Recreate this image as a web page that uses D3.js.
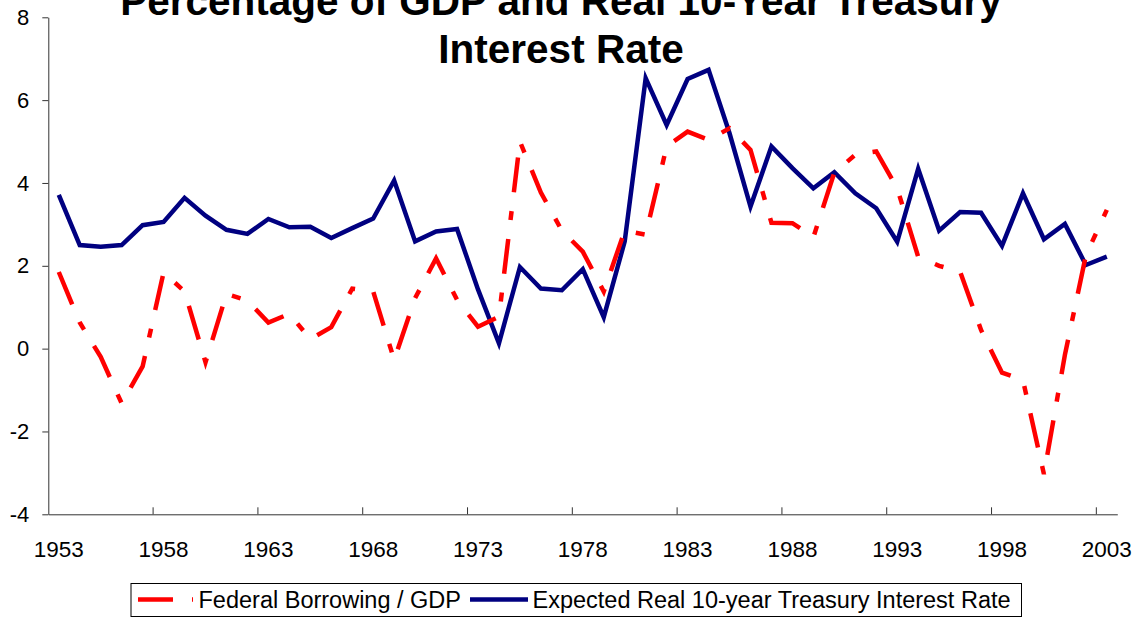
<!DOCTYPE html>
<html>
<head>
<meta charset="utf-8">
<script src="https://cdn.jsdelivr.net/npm/d3@7"></script>
<style>
  body { margin: 0; background: #fff; }
  svg { display: block; }
</style>
</head>
<body>
<div id="my_dataviz"></div>
<script>
// Data
var years = d3.range(1953, 2004);
var borrowing = [1.85, 0.63, -0.2, -1.32, -0.43, 1.84, 1.38, -0.33, 1.32, 1.16,
  0.63, 0.84, 0.23, 0.52, 1.45, 1.38, -0.27, 1.22, 2.18, 1.18,
  0.53, 0.77, 5.0, 3.77, 2.85, 2.34, 1.38, 2.85, 2.75, 4.88,
  5.24, 5.04, 5.32, 4.8, 3.04, 3.03, 2.69, 4.25, 4.68, 4.76,
  3.87, 2.22, 2.0, 1.86, 0.45, -0.58, -0.76, -3.03, -0.15, 2.25,
  3.35];
var realRate = [3.71, 2.5, 2.46, 2.5, 2.98, 3.06, 3.64, 3.21, 2.87, 2.77,
  3.13, 2.93, 2.94, 2.67, 2.91, 3.14, 4.06, 2.59, 2.83, 2.89,
  1.43, 0.13, 1.97, 1.45, 1.41, 1.92, 0.76, 2.59, 6.53, 5.4,
  6.51, 6.73, 5.2, 3.43, 4.88, 4.36, 3.87, 4.26, 3.75, 3.39,
  2.58, 4.34, 2.85, 3.3, 3.28, 2.48, 3.75, 2.64, 3.01, 2.02,
  2.22];
var yTicks = [-4, -2, 0, 2, 4, 6, 8];
var xLabels = [1953, 1958, 1963, 1968, 1973, 1978, 1983, 1988, 1993, 1998, 2003];
var seriesNames = ["Federal Borrowing / GDP", "Expected Real 10-year Treasury Interest Rate"];
var titleLines = ["Percentage of GDP and Real 10-Year Treasury", "Interest Rate"];

document.addEventListener("DOMContentLoaded", function() {

var W = 1139, H = 618;
var font = "Arial, 'Liberation Sans', sans-serif";

var svg = d3.select("#my_dataviz")
  .append("svg")
  .attr("width", W)
  .attr("height", H);

// scales (categories: one band per year)
var x = d3.scaleBand()
  .domain(years)
  .range([48.3, 1117.3])
  .padding(0);
var xc = function(yr) { return x(yr) + x.bandwidth() / 2; };

var y = d3.scaleLinear()
  .domain([-4, 8])
  .range([514.3, 17.3]);

// Y axis (plain hyphen for negatives, like the original)
var yAxis = svg.append("g")
  .attr("transform", "translate(48.3,0)")
  .call(d3.axisLeft(y).tickValues(yTicks).tickSizeInner(6).tickSizeOuter(0).tickPadding(13)
    .tickFormat(function(d) { return String(d); }));
yAxis.selectAll("text")
  .style("font-size", "22px")
  .style("font-family", font)
  .attr("fill", "#000");
yAxis.selectAll("line, path").attr("stroke", "#333");

// X axis: ticks at the left edge of every 5th category, pointing up
var xAxis = svg.append("g")
  .attr("transform", "translate(0,514.3)")
  .call(d3.axisBottom(x).tickValues(xLabels.slice(1)).tickSizeInner(-7).tickSizeOuter(0)
    .tickFormat(""));
xAxis.selectAll(".tick").attr("transform", function(d) { return "translate(" + x(d) + ",0)"; });
xAxis.selectAll("line, path").attr("stroke", "#333");

// X labels centred on their categories
svg.append("g")
  .selectAll("text")
  .data(xLabels)
  .enter().append("text")
    .attr("x", function(d) { return xc(d); })
    .attr("y", 556.5)
    .attr("text-anchor", "middle")
    .style("font-size", "22.5px")
    .style("font-family", font)
    .text(function(d) { return d; });

// lines
var line = function(vals) {
  return d3.line()
    .x(function(d, i) { return xc(years[i]); })
    .y(function(d) { return y(d); })(vals);
};

svg.append("path")
  .attr("d", line(realRate))
  .attr("fill", "none")
  .attr("stroke", "#000080")
  .attr("stroke-width", 4.5);

svg.append("path")
  .attr("d", line(borrowing))
  .attr("fill", "none")
  .attr("stroke", "#ff0000")
  .attr("stroke-width", 4.5)
  .attr("stroke-dasharray", "35,19,9,19");

// Title (top line runs off the edge, as in the original)
svg.append("text")
  .attr("x", 561)
  .attr("text-anchor", "middle")
  .style("font-size", "40.5px")
  .style("font-weight", "bold")
  .style("font-family", font)
  .selectAll("tspan")
  .data(titleLines)
  .enter().append("tspan")
    .attr("x", 561)
    .attr("y", function(d, i) { return 15 + i * 48; })
    .text(function(d) { return d; });

// Legend
var legend = svg.append("g");
legend.append("rect")
  .attr("x", 131)
  .attr("y", 583.5)
  .attr("width", 890.5)
  .attr("height", 33)
  .attr("fill", "#fff")
  .attr("stroke", "#000")
  .attr("stroke-width", 1);

legend.append("line")
  .attr("x1", 138).attr("x2", 193)
  .attr("y1", 599.5).attr("y2", 599.5)
  .attr("stroke", "#ff0000")
  .attr("stroke-width", 4.5)
  .attr("stroke-dasharray", "35,19,9,19");
legend.append("text")
  .attr("x", 198.5)
  .attr("y", 608)
  .style("font-size", "23.5px")
  .style("font-family", font)
  .text(seriesNames[0]);

legend.append("line")
  .attr("x1", 470).attr("x2", 528)
  .attr("y1", 599.5).attr("y2", 599.5)
  .attr("stroke", "#000080")
  .attr("stroke-width", 4.5);
legend.append("text")
  .attr("x", 532.5)
  .attr("y", 608)
  .style("font-size", "23.5px")
  .style("font-family", font)
  .text(seriesNames[1]);

});
</script>
</body>
</html>
